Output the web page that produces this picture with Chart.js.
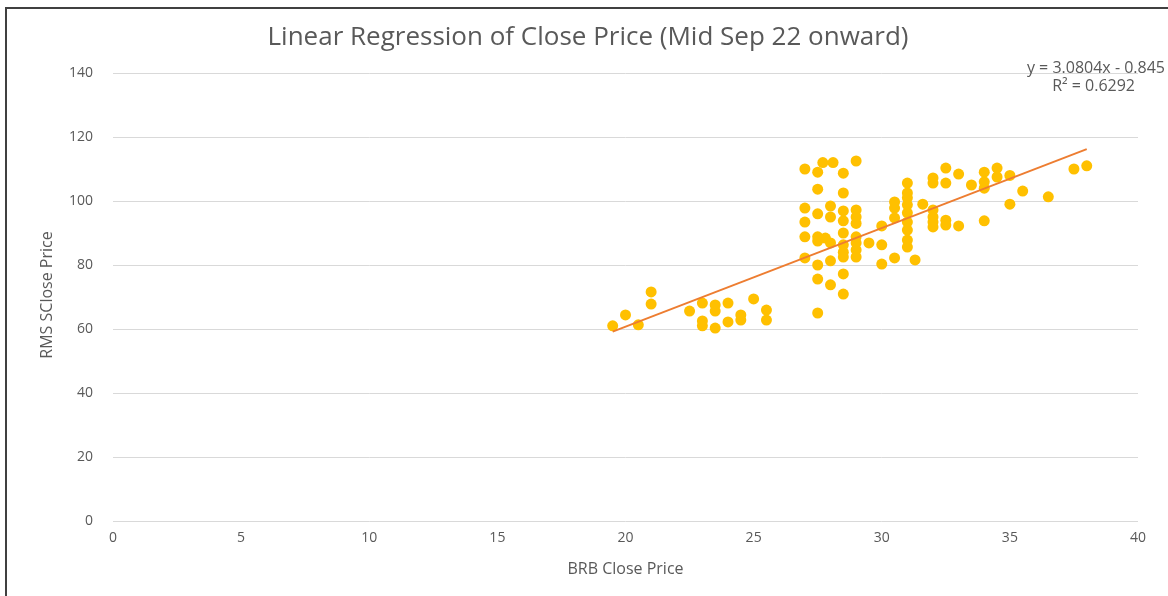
<!DOCTYPE html>
<html>
<head>
<meta charset="utf-8">
<script src="https://cdn.jsdelivr.net/npm/chart.js@4.4.0/dist/chart.umd.min.js"></script>
<style>
  html, body { margin: 0; padding: 0; background: #ffffff; }
  #wrap { width: 1168px; height: 596px; position: relative; }
</style>
</head>
<body>
<div id="wrap"><canvas id="c" width="1168" height="596"></canvas></div>
<script>
const chartTitle = "Linear Regression of Close Price (Mid Sep 22 onward)";
const xAxisTitle = "BRB Close Price";
const yAxisTitle = "RMS SClose Price";
const equationText = "y = 3.0804x - 0.845";
const r2Text = "R\u00B2 = 0.6292";

const brbClose = [
  19.5, 20, 20.5, 21, 21, 22.5, 23, 23, 23, 23.5, 23.5, 23.5, 24, 24, 24.5, 24.5, 25, 25.5, 25.5,
  27, 27.5, 27.7, 28.1, 28.5, 27.5, 28.5, 27, 27.5, 28, 28, 28.5, 28.5, 27, 27, 27.5, 27.5, 27.8, 28,
  28.5, 28.5, 28.5, 28.5, 27, 27.5, 28, 27.5, 28, 28.5, 28.5, 27.5,
  29, 29, 29, 29, 29, 29, 29, 29, 29.5, 30, 30, 30, 30.5, 30.5, 30.5, 30.5,
  31, 31, 31, 31, 31, 31, 31, 31, 31, 31.3, 31.6,
  32, 32, 32, 32, 32, 32, 32.5, 32.5, 32.5, 32.5, 33, 33, 33.5,
  34, 34, 34, 34.5, 34.5, 35, 35.5, 35, 34, 36.5, 37.5, 38
];
const rmsClose = [
  61, 64.4, 61.3, 71.6, 67.8, 65.6, 68.1, 62.5, 61, 60.3, 67.5, 65.6, 68.1, 62.2, 64.4, 62.8, 69.4, 65.9, 62.8,
  110, 109, 112, 112, 108.7, 103.7, 102.5, 97.8, 96, 98.4, 95, 96.9, 93.8, 93.4, 88.8, 88.8, 87.5, 88.4, 86.9,
  90, 86.3, 84, 82.5, 82.2, 80, 81.3, 75.6, 73.8, 77.2, 70.9, 65,
  112.5, 97.2, 95, 93, 88.8, 86.9, 84.7, 82.5, 86.9, 86.3, 80.3, 92.2, 99.7, 97.8, 94.7, 82.2,
  105.6, 102.5, 101, 98.8, 96.3, 93.4, 90.9, 87.8, 85.6, 81.6, 99,
  107.2, 105.6, 97.2, 95, 93.4, 91.9, 110.3, 105.6, 94, 92.5, 108.4, 92.2, 105,
  109, 106, 104, 110.3, 107.5, 108, 103.1, 99, 93.8, 101.3, 110, 111
];
const trendX = [19.5, 38];
const trendY = [59.2, 116.2];
const xTicks = [0, 5, 10, 15, 20, 25, 30, 35, 40];
const yTicks = [0, 20, 40, 60, 80, 100, 120, 140];

const scatterPoints = brbClose.map((x, i) => ({ x: x, y: rmsClose[i] }));
const trendPoints = trendX.map((x, i) => ({ x: x, y: trendY[i] }));

const FONT = "'Open Sans', 'Liberation Sans', sans-serif";
const TEXT = '#595959';

const decor = {
  id: 'decor',
  beforeDraw(chart) {
    const ctx = chart.ctx;
    ctx.save();
    ctx.fillStyle = '#ffffff';
    ctx.fillRect(0, 0, chart.width, chart.height);
    ctx.strokeStyle = '#404040';
    ctx.lineWidth = 2;
    ctx.strokeRect(6, 8, 1300, 800);
    ctx.restore();
  },
  afterDraw(chart) {
    const ctx = chart.ctx;
    const area = chart.chartArea;
    ctx.save();
    ctx.fillStyle = TEXT;
    ctx.textBaseline = 'middle';
    ctx.font = "26px " + FONT;
    ctx.textAlign = 'center';
    ctx.fillText(chartTitle, 588, 38);
    ctx.font = "16px " + FONT;
    ctx.textAlign = 'right';
    ctx.fillText(equationText, 1165, 68);
    ctx.fillText(r2Text, 1135, 86);
    ctx.textAlign = 'center';
    ctx.fillText(xAxisTitle, (area.left + area.right) / 2, 569);
    ctx.translate(47, 295);
    ctx.rotate(-Math.PI / 2);
    ctx.fillText(yAxisTitle, 0, 0);
    ctx.restore();
  }
};

new Chart(document.getElementById('c'), {
  type: 'scatter',
  data: {
    datasets: [
      {
        type: 'line',
        label: 'Trend',
        data: trendPoints,
        borderColor: '#ED7D31',
        borderWidth: 2,
        pointRadius: 0,
        fill: false,
        order: 0
      },
      {
        label: 'RMS vs BRB',
        data: scatterPoints,
        backgroundColor: '#FFC000',
        borderColor: '#FFC000',
        borderWidth: 0,
        pointRadius: 5.5,
        pointHoverRadius: 5.5,
        order: 1
      }
    ]
  },
  plugins: [decor],
  options: {
    responsive: false,
    animation: false,
    devicePixelRatio: 1,
    layout: { padding: { top: 73, right: 30, left: 0, bottom: 0 } },
    plugins: {
      legend: { display: false },
      title: { display: false },
      tooltip: { enabled: false }
    },
    scales: {
      x: {
        type: 'linear',
        min: 0, max: 40,
        afterBuildTicks(scale) { scale.ticks = xTicks.map(v => ({ value: v })); },
        afterFit(scale) { scale.height = 75; },
        grid: { display: false, drawTicks: false },
        border: { display: false },
        ticks: { color: TEXT, font: { family: FONT, size: 14 }, padding: 9 },
        title: { display: false }
      },
      y: {
        type: 'linear',
        min: 0, max: 140,
        afterBuildTicks(scale) { scale.ticks = yTicks.map(v => ({ value: v })); },
        afterFit(scale) { scale.width = 113; },
        grid: { color: '#D9D9D9', lineWidth: 1, drawTicks: false },
        border: { display: false },
        ticks: { color: TEXT, font: { family: FONT, size: 14 }, padding: 20 },
        title: { display: false }
      }
    }
  }
});
</script>
</body>
</html>
